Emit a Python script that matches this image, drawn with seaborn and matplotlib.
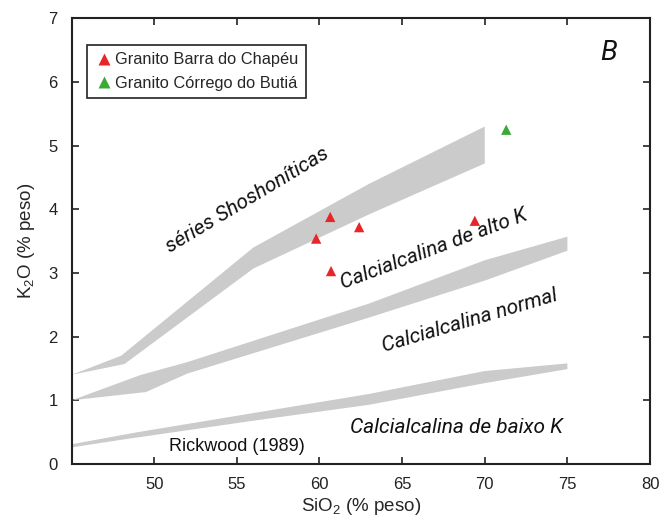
import matplotlib
matplotlib.use("Agg")
import matplotlib.pyplot as plt
import seaborn as sns
import pandas as pd

# ---- data ----
sio2_chapeu = [59.8, 60.65, 60.7, 62.4, 69.4]
k2o_chapeu = [3.54, 3.88, 3.03, 3.72, 3.82]
sio2_butia = [71.3]
k2o_butia = [5.25]
series_names = ["Granito Barra do Chapéu", "Granito Córrego do Butiá"]

# Rickwood (1989) boundary bands: upper and lower edges
shosh_up_x = [45, 48, 56, 63, 70]
shosh_up_y = [1.40, 1.70, 3.40, 4.40, 5.30]
shosh_lo_x = [45, 48.2, 56, 63, 70]
shosh_lo_y = [1.40, 1.57, 3.07, 3.92, 4.72]

altok_up_x = [45, 49.2, 52, 63, 70, 75]
altok_up_y = [1.00, 1.40, 1.60, 2.52, 3.20, 3.57]
altok_lo_x = [45, 49.5, 52, 63, 70, 75]
altok_lo_y = [1.00, 1.13, 1.42, 2.30, 2.88, 3.35]

baixo_up_x = [45, 49, 56, 63, 70, 75]
baixo_up_y = [0.31, 0.50, 0.80, 1.10, 1.46, 1.58]
baixo_lo_x = [45, 48, 56, 63, 70, 75]
baixo_lo_y = [0.26, 0.38, 0.68, 0.93, 1.27, 1.49]

xticks = [50, 55, 60, 65, 70, 75, 80]
yticks = [0, 1, 2, 3, 4, 5, 6, 7]

df = pd.DataFrame({
    "SiO2": sio2_chapeu + sio2_butia,
    "K2O": k2o_chapeu + k2o_butia,
    "grupo": [series_names[0]] * len(sio2_chapeu) + [series_names[1]] * len(sio2_butia),
})

sns.set_theme(style="ticks")
base = ["Liberation Sans", "DejaVu Sans"]
narrow = ["Roboto", "Liberation Sans", "DejaVu Sans"]
plt.rcParams["font.family"] = base
plt.rcParams["mathtext.fontset"] = "custom"
plt.rcParams["mathtext.rm"] = "Liberation Sans"
plt.rcParams["mathtext.it"] = "Liberation Sans:italic"

fig = plt.figure(figsize=(6.69, 5.21), dpi=100)
ax = fig.add_axes([0.107, 0.1094, 0.8646, 0.8555])

gray = "#cbcbcb"
for ux, uy, lx, ly in [
    (shosh_up_x, shosh_up_y, shosh_lo_x, shosh_lo_y),
    (altok_up_x, altok_up_y, altok_lo_x, altok_lo_y),
    (baixo_up_x, baixo_up_y, baixo_lo_x, baixo_lo_y),
]:
    ax.fill(list(ux) + list(lx[::-1]), list(uy) + list(ly[::-1]),
            color=gray, lw=0, zorder=1)

sns.scatterplot(data=df, x="SiO2", y="K2O", hue="grupo", marker="^",
                palette=["#e8262a", "#3aaa35"], s=55, edgecolor="none",
                ax=ax, zorder=3)

ax.set_xlim(45, 80)
ax.set_ylim(0, 7)
ax.set_xticks(xticks)
ax.set_yticks(yticks)
ax.tick_params(direction="in", top=True, right=True, length=5, width=1.2,
               labelsize=12, colors="#222222")
ax.tick_params(axis="y", pad=10)
ax.tick_params(axis="x", pad=9)
for sp in ax.spines.values():
    sp.set_linewidth(1.5)
    sp.set_color("#222222")
ax.set_xlabel("SiO$_2$ (% peso)", fontsize=13.5, labelpad=3)
ax.set_ylabel("K$_2$O (% peso)", fontsize=13.5, labelpad=8)

leg = ax.legend(loc="upper left", bbox_to_anchor=(0.026, 0.94), borderaxespad=0,
                fancybox=False, edgecolor="#222222", framealpha=1, fontsize=11.8,
                handletextpad=0.1, borderpad=0.45, labelspacing=0.5,
                handlelength=1.2, title=None, markerscale=1.2)
leg.get_frame().set_linewidth(1.2)

tk = dict(style="italic", family=narrow, color="#111111",
          ha="center", va="center", rotation_mode="anchor")
ax.text(55.6, 4.15, "séries Shoshoníticas", rotation=31, fontsize=15, **tk)
ax.text(66.9, 3.37, "Calcialcalina de alto K", rotation=20.5, fontsize=15, **tk)
ax.text(69.1, 2.25, "Calcialcalina normal", rotation=16.5, fontsize=15, **tk)
ax.text(68.3, 0.58, "Calcialcalina de baixo K", rotation=0, fontsize=15, **tk)
ax.text(77.5, 6.45, "B", rotation=0, fontsize=20, **tk)
ax.text(55.0, 0.27, "Rickwood (1989)", fontsize=13, ha="center", va="center",
        color="#111111")

fig.savefig("out.png", dpi=100)
